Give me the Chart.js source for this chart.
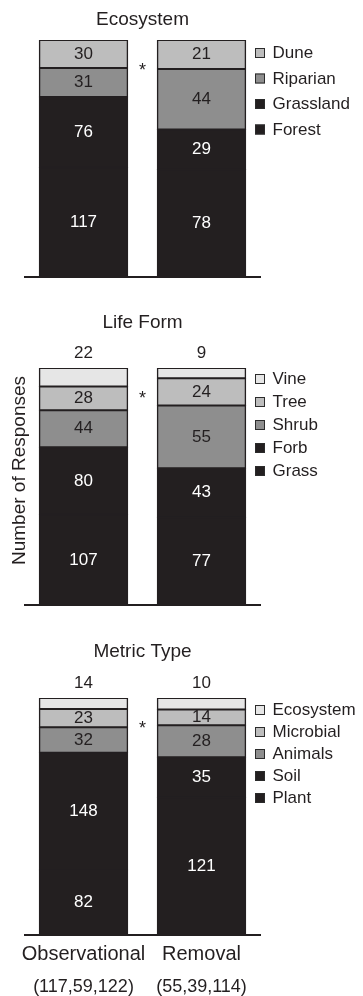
<!DOCTYPE html>
<html>
<head>
<meta charset="utf-8">
<script src="https://cdn.jsdelivr.net/npm/chart.js@4"></script>
<style>
  body { margin: 0; background: #fff; }
  .panel { position: relative; width: 363px; }
</style>
</head>
<body>
<div class="panel" style="height:290px"><canvas id="ecosystemChart"></canvas></div>
<div class="panel" style="height:320px"><canvas id="lifeFormChart"></canvas></div>
<div class="panel" style="height:386px"><canvas id="metricChart"></canvas></div>
<script>
const groups = ['Observational', 'Removal'];
const sampleSizes = ['(117,59,122)', '(55,39,114)'];
const yAxisTitle = 'Number of Responses';

// every list runs from the bottom of the stack to the top
const ecosystemTypes = ['Forest', 'Grassland', 'Riparian', 'Dune'];
const ecosystemObservational = [117, 76, 31, 30];
const ecosystemRemoval = [78, 29, 44, 21];

const lifeForms = ['Grass', 'Forb', 'Shrub', 'Tree', 'Vine'];
const lifeFormObservational = [107, 80, 44, 28, 22];
const lifeFormRemoval = [77, 43, 55, 24, 9];

const metricTypes = ['Plant', 'Soil', 'Animals', 'Microbial', 'Ecosystem'];
const metricObservational = [82, 148, 32, 23, 14];
const metricRemoval = [121, 35, 28, 14, 10];

const INK = '#231f20';
const DARK = '#231f20';
const MID = '#8e8e8e';
const LIGHT = '#bdbdbd';
const PALE = '#e6e6e6';
const FONT = '"Liberation Sans", Arial, sans-serif';

Chart.defaults.font.family = FONT;
Chart.defaults.color = INK;

// stacks are shown as shares of each group's total
function buildDatasets(names, obs, rem, colors) {
    const totals = [obs.reduce((a, b) => a + b, 0), rem.reduce((a, b) => a + b, 0)];
    return names.map((name, i) => ({
        label: name,
        counts: [obs[i], rem[i]],
        data: [obs[i] / totals[0] * 100, rem[i] / totals[1] * 100],
        backgroundColor: colors[i],
        borderColor: INK,
        borderWidth: 1.5,
        borderSkipped: false,
        inflateAmount: 0.5,
        barPercentage: 0.75,
        categoryPercentage: 1,
    }));
}

const panelDecor = {
    id: 'panelDecor',
    afterDraw(chart, args, opts) {
        const { ctx, chartArea, scales } = chart;
        const sets = chart.data.datasets;
        ctx.save();
        ctx.textAlign = 'center';
        ctx.textBaseline = 'middle';

        // counts inside each segment (thin top segment gets it above the bar)
        ctx.font = '17px ' + FONT;
        sets.forEach((ds, i) => {
            const above = opts.topLabelAbove && i === sets.length - 1;
            chart.getDatasetMeta(i).data.forEach((bar, j) => {
                const y = above ? bar.y - 15 : (bar.y + bar.base) / 2;
                ctx.fillStyle = !above && ds.backgroundColor === DARK ? '#ffffff' : INK;
                ctx.fillText(ds.counts[j], bar.x, y);
            });
        });

        // significance star between the two bars
        ctx.fillStyle = INK;
        ctx.font = '18px ' + FONT;
        ctx.fillText('*', scales.x.getPixelForValue(0.5), scales.y.getPixelForValue(87));

        // sample sizes under the group names
        if (opts.showSamples) {
            ctx.font = '18px ' + FONT;
            sampleSizes.forEach((s, j) => {
                ctx.fillText(s, scales.x.getPixelForValue(j), chartArea.bottom + 52);
            });
        }

        // shared y title, set a little above the middle of the bars
        if (opts.yTitle) {
            ctx.save();
            ctx.translate(20, (chartArea.top + chartArea.bottom) / 2 - 16);
            ctx.rotate(-Math.PI / 2);
            ctx.font = '19px ' + FONT;
            ctx.fillText(opts.yTitle, 0, 0);
            ctx.restore();
        }

        // legend, top of the stack listed first
        ctx.textAlign = 'left';
        ctx.font = '17px ' + FONT;
        const x0 = chartArea.right - 5.5;
        sets.slice().reverse().forEach((ds, k) => {
            const y = chartArea.top + opts.legendTop + k * opts.legendStep;
            ctx.fillStyle = ds.backgroundColor;
            ctx.fillRect(x0, y - 5, 10, 10);
            ctx.strokeStyle = '#2b2b2b';
            ctx.lineWidth = 1;
            ctx.strokeRect(x0 + 0.5, y - 4.5, 9, 9);
            ctx.fillStyle = INK;
            ctx.fillText(ds.label, x0 + 17.5, y + 0.5);
        });
        ctx.restore();
    }
};

function makeChart(id, title, datasets, panel) {
    return new Chart(document.getElementById(id), {
        type: 'bar',
        data: { labels: groups, datasets: datasets },
        plugins: [panelDecor],
        options: {
            responsive: true,
            maintainAspectRatio: false,
            animation: false,
            layout: { padding: { left: 24.5, right: 102.5, top: 0, bottom: 0 } },
            plugins: {
                legend: { display: false },
                tooltip: { enabled: false },
                title: {
                    display: true,
                    text: title,
                    color: INK,
                    font: { size: 19, weight: 'normal' },
                    padding: { top: panel.titleTop, bottom: panel.titleBottom },
                },
                panelDecor: panel,
            },
            scales: {
                x: {
                    stacked: true,
                    grid: { display: false, drawTicks: false },
                    border: { display: true, color: INK, width: 2 },
                    ticks: {
                        display: !!panel.showSamples,
                        color: INK,
                        font: { size: 20 },
                        padding: 7,
                        maxRotation: 0,
                        minRotation: 0,
                        autoSkip: false,
                    },
                    afterFit: (s) => { s.height = panel.axisHeight; },
                },
                y: {
                    display: false,
                    stacked: true,
                    min: 0,
                    max: 100,
                },
            },
        },
    });
}

makeChart('ecosystemChart', 'Ecosystem',
    buildDatasets(ecosystemTypes, ecosystemObservational, ecosystemRemoval, [DARK, DARK, MID, LIGHT]),
    { titleTop: 8, titleBottom: 9.2, axisHeight: 13, legendTop: 13, legendStep: 25.5, topLabelAbove: false });

makeChart('lifeFormChart', 'Life Form',
    buildDatasets(lifeForms, lifeFormObservational, lifeFormRemoval, [DARK, DARK, MID, LIGHT, PALE]),
    { titleTop: 21.6, titleBottom: 33.6, axisHeight: 5, legendTop: 11, legendStep: 23, topLabelAbove: true,
      yTitle: yAxisTitle });

makeChart('metricChart', 'Metric Type',
    buildDatasets(metricTypes, metricObservational, metricRemoval, [DARK, DARK, MID, LIGHT, PALE]),
    { titleTop: 30.6, titleBottom: 34.6, axisHeight: 61, legendTop: 12, legendStep: 22, topLabelAbove: true,
      showSamples: true });
</script>
</body>
</html>
